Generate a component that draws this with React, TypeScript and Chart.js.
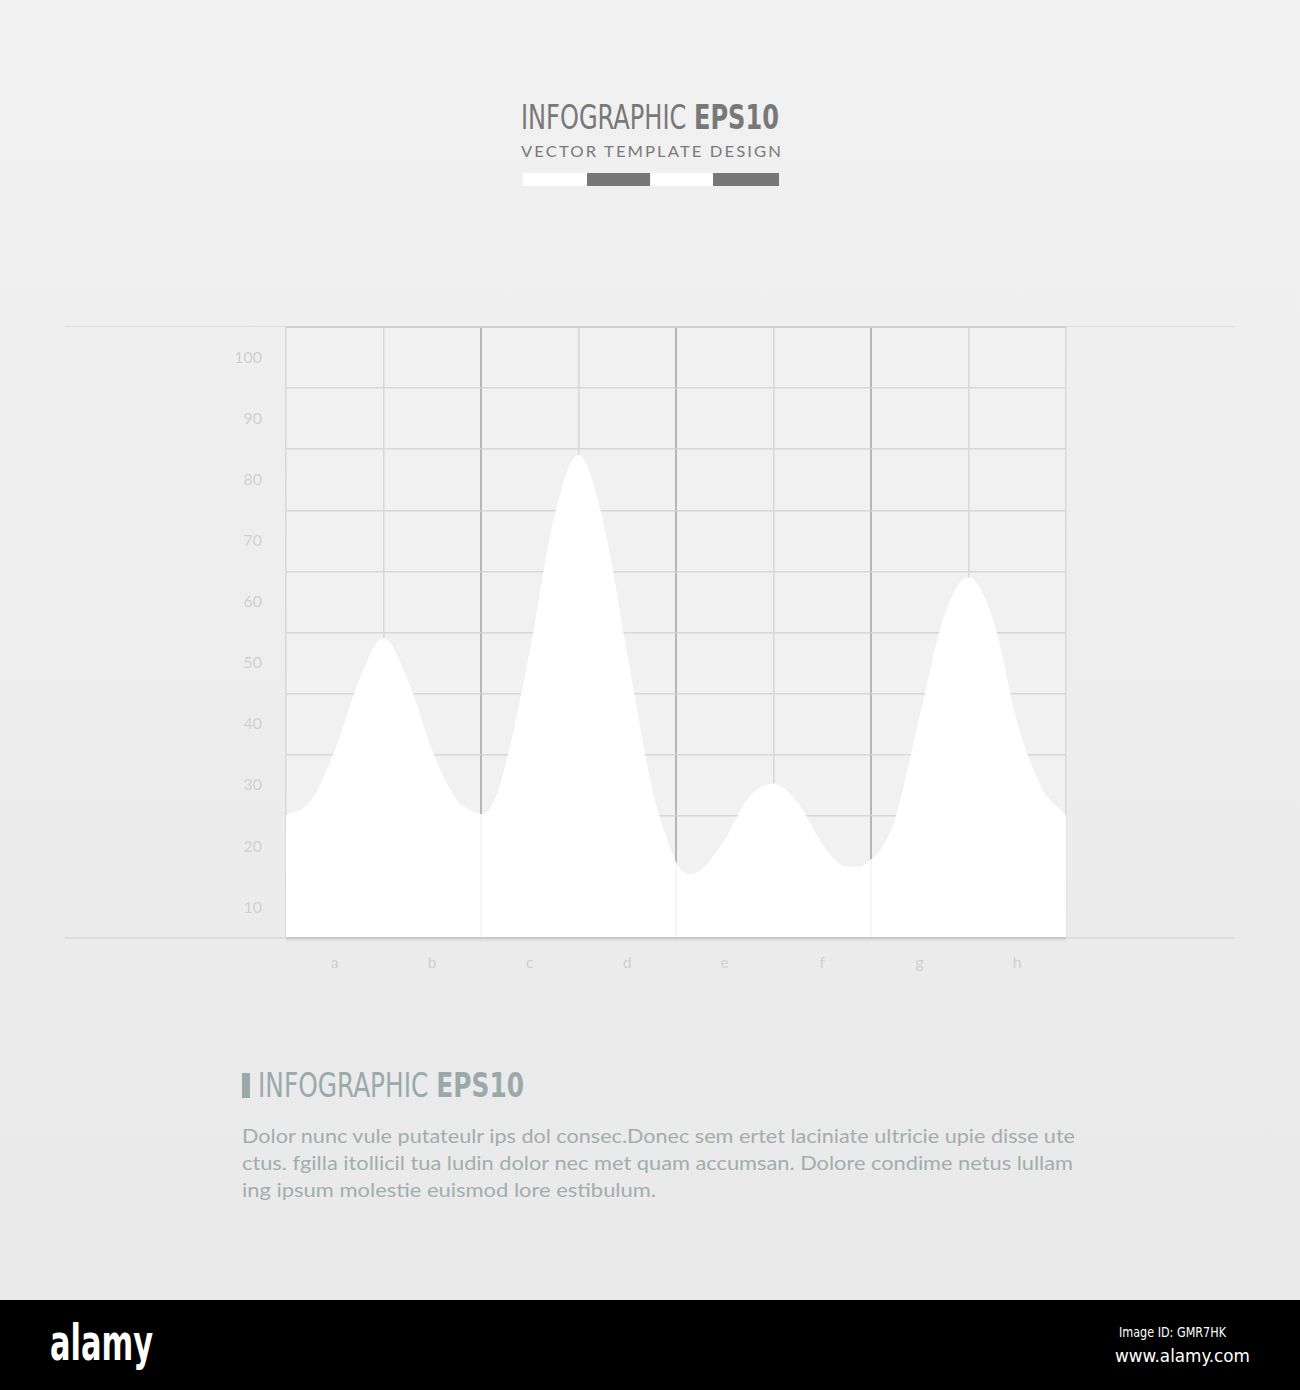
import React, { useEffect, useLayoutEffect, useRef } from "react";
import { Chart, registerables } from "chart.js";

Chart.register(...registerables);

// ---- data ----
const categories = ["a", "b", "c", "d", "e", "f", "g", "h"];
const gridPositions = [0, 1, 2, 3, 4, 5, 6, 7, 8];
const curveX = [
  0, 0.25, 0.5, 0.75, 1, 1.25, 1.5, 1.75, 1.875, 2, 2.125, 2.25, 2.5, 2.75, 3, 3.25, 3.5,
  3.75, 3.875, 4, 4.125, 4.25, 4.5, 4.75, 5, 5.25, 5.5, 5.75, 5.875, 6, 6.125, 6.25, 6.5,
  6.75, 7, 7.25, 7.5, 7.75, 8,
];
const curveY = [
  20, 22.3, 30.5, 42, 49, 42, 30.5, 22.5, 21, 20.2, 22, 28, 46.5, 68.5, 79, 68, 46,
  24.5, 17.5, 12.3, 10.4, 11, 16, 23, 25.2, 22, 15.3, 11.6, 11.6, 12.8, 15, 19.4, 36,
  52.5, 59, 52, 35, 24.5, 20,
];
const yGridValues = [0, 10, 20, 30, 40, 50, 60, 70, 80, 90, 100];
const yLabelValues = [5, 15, 25, 35, 45, 55, 65, 75, 85, 95];
const yTickLabels = ["10", "20", "30", "40", "50", "60", "70", "80", "90", "100"];
const xLabelValues = [0.5, 1.5, 2.5, 3.5, 4.5, 5.5, 6.5, 7.5];
const strongGridIdx = [2, 4, 6];

const condensed = '"DejaVu Sans Condensed", "Liberation Sans Narrow", "DejaVu Sans", sans-serif';

const bgPlugin = {
  id: "plotBg",
  beforeDraw(chart: any) {
    const { ctx, chartArea } = chart;
    if (!chartArea) return;
    ctx.save();
    ctx.fillStyle = "#f1f1f1";
    ctx.fillRect(chartArea.left, chartArea.top, chartArea.right - chartArea.left, chartArea.bottom - chartArea.top);
    ctx.restore();
  },
  afterDatasetsDraw(chart: any) {
    const { ctx, chartArea } = chart;
    const xs = chart.scales.x;
    ctx.save();
    ctx.strokeStyle = "rgba(0,0,0,0.035)";
    ctx.lineWidth = 2;
    strongGridIdx.forEach((i) => {
      const px = xs.getPixelForValue(gridPositions[i]);
      ctx.beginPath();
      ctx.moveTo(px, chartArea.top);
      ctx.lineTo(px, chartArea.bottom);
      ctx.stroke();
    });
    ctx.restore();
  },
};

function ChartCanvas() {
  const ref = useRef<HTMLCanvasElement | null>(null);
  useEffect(() => {
    if (!ref.current) return;
    const chart = new Chart(ref.current, {
      type: "line",
      data: {
        datasets: [
          {
            data: curveY.map((v, i) => ({ x: curveX[i], y: v })),
            fill: "origin",
            backgroundColor: "#ffffff",
            borderColor: "#ffffff",
            borderWidth: 1,
            pointRadius: 0,
            cubicInterpolationMode: "monotone",
          } as any,
        ],
      },
      options: {
        animation: false,
        responsive: true,
        maintainAspectRatio: false,
        layout: { padding: { left: 0, top: 27, right: 34, bottom: 0 } },
        plugins: { legend: { display: false }, tooltip: { enabled: false } },
        scales: {
          x: {
            type: "linear",
            min: 0,
            max: 8,
            position: "bottom",
            afterBuildTicks: (ax: any) => {
              ax.ticks = gridPositions.map((v) => ({ value: v }));
            },
            afterFit: (s: any) => {
              s.height = 0;
              s.paddingLeft = 0;
              s.paddingRight = 0;
            },
            grid: {
              color: (c: any) => (strongGridIdx.includes(c.index) ? "#bdbdbd" : "#d8d8d8"),
              lineWidth: (c: any) => (strongGridIdx.includes(c.index) ? 2 : 1.5),
              drawTicks: false,
            },
            border: { display: false },
            ticks: { display: false },
          },
          x2: {
            type: "linear",
            min: 0,
            max: 8,
            position: "bottom",
            afterBuildTicks: (ax: any) => {
              ax.ticks = xLabelValues.map((v) => ({ value: v }));
            },
            afterFit: (s: any) => {
              s.height = 62;
              s.paddingLeft = 0;
              s.paddingRight = 0;
            },
            grid: { display: false, drawTicks: false },
            border: { display: false },
            ticks: {
              callback: (_v: any, i: number) => categories[i],
              color: "#cfcfcf",
              font: { family: "Lato", size: 16 },
              padding: 15,
              autoSkip: false,
              maxRotation: 0,
            },
          },
          y: {
            type: "linear",
            min: 0,
            max: 100,
            position: "left",
            afterBuildTicks: (ax: any) => {
              ax.ticks = yGridValues.map((v) => ({ value: v }));
            },
            afterFit: (s: any) => {
              s.width = 0;
              s.paddingTop = 0;
              s.paddingBottom = 0;
            },
            grid: { color: "#d8d8d8", lineWidth: 1.5, drawTicks: false },
            border: { display: false },
            ticks: { display: false },
          },
          y2: {
            type: "linear",
            min: 0,
            max: 100,
            position: "left",
            afterBuildTicks: (ax: any) => {
              ax.ticks = yLabelValues.map((v) => ({ value: v }));
            },
            afterFit: (s: any) => {
              s.width = 86;
              s.paddingTop = 0;
              s.paddingBottom = 0;
            },
            grid: { display: false, drawTicks: false },
            border: { display: false },
            ticks: {
              callback: (_v: any, i: number) => yTickLabels[i],
              color: "#cfcfcf",
              font: { family: "Lato", size: 16 },
              padding: 24,
              autoSkip: false,
            },
          },
        },
      } as any,
      plugins: [bgPlugin],
    });
    return () => chart.destroy();
  }, []);
  return (
    <div style={{ position: "absolute", left: 200, top: 300, width: 900, height: 700 }}>
      <canvas ref={ref} />
    </div>
  );
}

function FitText(props: { left: number; top: number; width: number; style: React.CSSProperties; children: React.ReactNode }) {
  const ref = useRef<HTMLSpanElement | null>(null);
  useLayoutEffect(() => {
    const el = ref.current;
    if (!el) return;
    el.style.transform = "none";
    const w = el.getBoundingClientRect().width;
    if (w > 0) el.style.transform = `scaleX(${props.width / w})`;
  }, [props.width]);
  return (
    <span
      ref={ref}
      style={{
        position: "absolute",
        left: props.left,
        top: props.top,
        whiteSpace: "nowrap",
        display: "inline-block",
        transformOrigin: "0 0",
        ...props.style,
      }}
    >
      {props.children}
    </span>
  );
}

export default function App() {
  const abs = (s: React.CSSProperties): React.CSSProperties => ({ position: "absolute", ...s });
  const bodyStyle: React.CSSProperties = {
    fontFamily: "Lato, sans-serif",
    fontSize: 20,
    lineHeight: "27px",
    color: "#a2adad",
  };
  return (
    <div
      style={{
        position: "absolute",
        left: 0,
        top: 0,
        width: 1300,
        height: 1390,
        overflow: "hidden",
        background: "linear-gradient(to bottom, #f1f1f1 0%, #ededed 50%, #e9e9e9 93%)",
        fontFamily: "Lato, sans-serif",
      }}
    >
      {/* title */}
      <FitText
        left={521}
        top={98}
        width={258}
        style={{ fontFamily: condensed, fontSize: 33, lineHeight: "40px", color: "#787878" }}
      >
        INFOGRAPHIC <b>EPS10</b>
      </FitText>
      <FitText
        left={521}
        top={141}
        width={262}
        style={{ fontFamily: "Lato, sans-serif", fontSize: 16, letterSpacing: 2, lineHeight: "20px", color: "#7a7a7a" }}
      >
        VECTOR TEMPLATE DESIGN
      </FitText>
      <div style={abs({ left: 523, top: 173, width: 64, height: 13, background: "#ffffff" })} />
      <div style={abs({ left: 587, top: 173, width: 63, height: 13, background: "#777777" })} />
      <div style={abs({ left: 651, top: 173, width: 62, height: 13, background: "#ffffff" })} />
      <div style={abs({ left: 713, top: 173, width: 66, height: 13, background: "#777777" })} />

      <ChartCanvas />

      {/* frame lines */}
      <div style={abs({ left: 65, top: 326, width: 1170, height: 1, background: "#dddddd" })} />
      <div style={abs({ left: 286, top: 326, width: 780, height: 2, background: "#d0d0d0" })} />
      <div style={abs({ left: 65, top: 937, width: 1170, height: 2, background: "#dcdcdc" })} />
      <div style={abs({ left: 286, top: 937, width: 780, height: 2, background: "#c8c8c8" })} />
      <div
        style={abs({
          left: 286,
          top: 939,
          width: 780,
          height: 4,
          background: "linear-gradient(to bottom, rgba(0,0,0,0.06), rgba(0,0,0,0))",
        })}
      />

      {/* bottom text block */}
      <div style={abs({ left: 242, top: 1073, width: 8, height: 25, background: "#9aa9a9" })} />
      <FitText
        left={258}
        top={1066}
        width={266}
        style={{ fontFamily: condensed, fontSize: 33, lineHeight: "40px", color: "#9aa9a9" }}
      >
        INFOGRAPHIC <b>EPS10</b>
      </FitText>
      <FitText left={242} top={1122} width={833} style={bodyStyle}>
        Dolor nunc vule putateulr ips dol consec.Donec sem ertet laciniate ultricie upie disse ute
      </FitText>
      <FitText left={242} top={1149} width={831} style={bodyStyle}>
        ctus. fgilla itollicil tua ludin dolor nec met quam accumsan. Dolore condime netus lullam
      </FitText>
      <FitText left={242} top={1176} width={414} style={bodyStyle}>
        ing ipsum molestie euismod lore estibulum.
      </FitText>

      {/* footer bar */}
      <div style={abs({ left: 0, top: 1300, width: 1300, height: 90, background: "#000000" })} />
      <FitText
        left={50}
        top={1313}
        width={103}
        style={{ fontFamily: condensed, fontWeight: 700, fontSize: 50, lineHeight: "60px", color: "#ffffff" }}
      >
        alamy
      </FitText>
      <FitText
        left={1119}
        top={1323}
        width={107}
        style={{ fontFamily: condensed, fontSize: 14, lineHeight: "18px", color: "#ffffff" }}
      >
        Image ID: GMR7HK
      </FitText>
      <FitText
        left={1115}
        top={1345}
        width={135}
        style={{ fontFamily: condensed, fontSize: 18, lineHeight: "22px", color: "#ffffff" }}
      >
        www.alamy.com
      </FitText>
    </div>
  );
}
